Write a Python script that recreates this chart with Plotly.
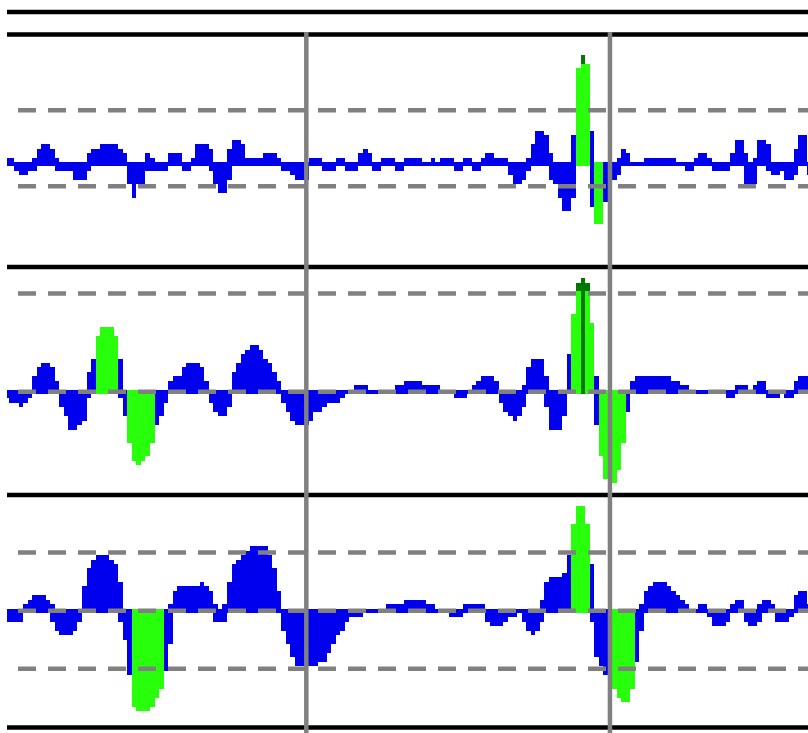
import plotly.graph_objects as go

# ---------------- data (integer counts per bin) ----------------
n_bins = 178
bins = list(range(n_bins))

p1_up = [1,1,0,0,0,0,1,3,4,4, 3,1,0,0,0,0,0,0,2,3, 3,4,4,4,4,3,2,0,0,0,
         0,2,1,0,0,0,2,2,2,0, 0,1,4,4,4,3,0,0,0,3, 5,5,4,1,1,1,1,2,2,2,
         1,0,0,0,0,0,0,1,1,1, 0,0,0,1,1,0,0,0,2,3, 2,0,0,1,1,1,0,0,1,1,
         1,1,0,0,1,0,1,1,1,0, 0,1,1,0,0,1,2,2,1,1, 1,0,0,0,0,1,4,7,7,6,
         2,0,0,0,0,6,0,0,0,7, 0,0,0,0,0,1,3,2,0,0, 0,1,1,1,1,1,1,1,0,0,
         0,0,1,2,2,1,0,0,0,0, 2,5,5,2,0,1,5,5,4,0, 0,0,0,0,3,6,6,0]
p1_dn = [0,0,-1,-2,-2,-1,-1,0,0,0, 0,-1,-1,-1,-1,-3,-3,-3,-1,0, 0,0,0,0,0,0,0,-4,-7,-4,
         -4,-1,-1,-1,-1,-1,0,0,0,-1, -1,0,0,0,0,-1,-4,-6,-6,-3, 0,0,0,0,0,0,0,0,0,0,
         0,-1,-1,-2,-3,-3,-3,0,0,0, -1,-1,-1,0,0,-1,-1,-1,0,0, 0,-1,-1,0,0,0,-1,-1,0,0,
         0,0,0,0,0,0,0,0,0,-1, -1,0,0,-1,-1,0,0,0,0,0, 0,-2,-4,-4,-3,-1,0,0,0,0,
         -3,-4,-7,-10,-10,-7,0,0,0,-9, 0,0,-8,-3,-3,-2,0,0,0,0, 0,0,0,0,0,0,0,0,0,0,
         -1,-1,0,0,0,0,-1,-1,-1,-1, 0,0,0,-4,-4,-4,0,0,-1,-2, -2,-1,-3,-3,-2,0,0,-2]
p1_hi_up = {126: 21, 127: 22, 128: 22}
p1_hi_dn = {130: -13, 131: -13}
p1_peak = {127: 24}

p2_up = [0,0,0,0,0,0,3,5,6,6, 5,2,0,0,0,0,0,0,4,7, 0,0,0,0,0,7,0,0,0,0,
         0,0,0,0,0,0,2,3,3,5, 6,6,6,5,2,0,0,0,0,0, 4,6,8,9,10,10,9,7,6,4,
         2,0,0,0,0,0,0,0,0,0, 0,0,0,0,0,0,0,1,1,1, 0,0,0,0,0,0,1,1,2,2,
         2,2,1,1,1,1,0,0,0,0, 0,0,0,1,2,3,3,3,2,0, 0,0,0,0,1,5,7,7,7,3,
         0,0,0,0,8,0,0,0,0,0, 3,0,0,0,0,0,0,0,2,3, 3,3,3,3,3,3,3,2,2,1,
         1,0,0,0,0,0,0,0,0,0, 0,1,1,1,0,1,2,2,0,0, 0,0,0,0,2,3,3,3]
p2_dn = [-1,-2,-2,-3,-2,-1,0,0,0,0, 0,0,-3,-5,-8,-8,-7,-6,-1,0, 0,0,0,0,0,-1,-5,0,0,0,
         0,0,0,-7,-5,-2,0,0,0,0, 0,0,0,0,0,-2,-4,-5,-5,-3, 0,0,0,0,0,0,0,0,0,0,
         0,-2,-4,-6,-7,-7,-7,-6,-4,-4, -3,-2,-2,-2,-1,0,0,0,0,0, 0,0,0,0,0,0,0,0,0,0,
         0,0,0,0,0,0,0,0,0,-1, -1,-1,0,0,0,0,0,0,0,-2, -4,-5,-6,-5,-3,0,0,0,0,-3,
         -8,-8,-8,-5,0,0,0,0,0,0, -7,0,0,0,0,0,0,-4,0,0, 0,0,0,0,0,0,0,0,0,0,
         0,0,0,0,0,0,0,0,0,-1, -1,0,0,0,0,0,0,0,-1,-1, -1,0,-1,-1,0,0,0,0]
p2_hi_up = {20: 12, 21: 14, 22: 14, 23: 14, 24: 12, 125: 17, 126: 22, 128: 22, 129: 15}
p2_hi_dn = {27: -11, 28: -15, 29: -16, 30: -15, 31: -14, 32: -11,
            131: -14, 132: -19, 133: -20, 134: -20, 135: -17, 136: -11}
p2_peak = {126: 24, 127: 25, 128: 24}

p3_up = [0,0,0,0,1,2,3,3,3,2, 1,0,0,0,0,0,0,5,9,11, 12,12,12,11,10,6,0,0,0,0,
         0,0,0,0,0,0,1,4,5,5, 5,5,5,6,5,4,1,0,1,6, 10,11,12,13,14,14,14,14,12,9,
         4,0,0,0,0,0,0,0,0,0, 0,0,0,0,0,0,0,0,0,0, 0,0,0,0,1,1,1,1,2,2,
         2,2,2,1,1,0,0,0,0,0, 0,1,1,1,1,1,0,0,0,0, 0,0,0,0,0,0,0,0,2,6,
         7,7,7,8,12,0,0,0,0,10, 0,0,0,0,0,0,0,0,0,0, 1,4,5,6,6,6,5,4,3,2,
         1,0,0,1,1,0,0,0,0,0, 1,2,2,0,0,0,1,2,2,1, 0,0,0,0,3,4,4,1]
p3_dn = [-2,-2,-2,-2,0,0,0,0,0,0, -2,-4,-5,-5,-5,-4,-2,0,0,0, 0,0,0,0,0,-2,-6,-14,0,0,
         0,0,0,0,0,-13,-7,0,0,0, 0,0,0,0,0,0,-2,-2,-2,0, 0,0,0,0,0,0,0,0,0,0,
         0,-4,-7,-10,-12,-12,-12,-12,-12,-11, -11,-9,-7,-5,-4,-2,-1,-1,-1,0, 0,0,0,0,0,0,0,0,0,0,
         0,0,0,0,0,0,0,0,-1,-1, -1,0,0,0,0,0,-2,-3,-3,-3, -2,-1,-1,0,-2,-4,-5,-4,-2,0,
         0,0,0,0,0,0,0,0,0,-2, -10,-12,-14,0,0,0,0,0,0,-11, -4,0,0,0,0,0,0,0,0,0,
         0,0,0,0,0,-1,-3,-3,-3,-2, 0,0,0,-2,-3,-3,-2,0,0,0, -2,-2,-2,-1,0,0,0,0]
p3_hi_up = {125: 19, 126: 23, 127: 23, 128: 19}
p3_hi_dn = {28: -21, 29: -22, 30: -22, 31: -22, 32: -21, 33: -19, 34: -17,
            133: -17, 134: -17, 135: -19, 136: -20, 137: -20, 138: -17}
p3_peak = {}

thresholds = [[12, -5], [22, 0], [13, 0, -13]]
events = [66, 133]

# ---------------- layout constants (pixels) ----------------
W, H = 808, 733
LEFT = 7
X0_PX, X_STEP = 4.94, 4.532          # px of bin edge 0, px per bin
Y_STEP = 4.47                        # px per count
PAD = 0.45                           # half thickness of the zero band (counts)
centers_px = [163.8, 391.8, 610.7]
bounds_px = [(34.5, 267.0), (267.0, 495.0), (495.0, 727.5)]
rules_px = [12.0, 34.5, 267.0, 495.0, 727.5]

BLUE, GREEN, DARK, GRAY = "#0000ee", "#28ff0a", "#007800", "#808080"

panels = [
    (p1_up, p1_dn, p1_hi_up, p1_hi_dn, p1_peak),
    (p2_up, p2_dn, p2_hi_up, p2_hi_dn, p2_peak),
    (p3_up, p3_dn, p3_hi_up, p3_hi_dn, p3_peak),
]

fig = go.Figure()
x_rng = [(LEFT - X0_PX) / X_STEP, (W - X0_PX) / X_STEP]

def bar(xs, lo, hi, color, yax):
    return go.Bar(x=[v + 0.5 for v in xs], base=[l - PAD for l in lo],
                  y=[h - l + 2 * PAD for h, l in zip(hi, lo)], width=1,
                  marker=dict(color=color, line=dict(width=0)),
                  yaxis=yax, xaxis="x", showlegend=False, hoverinfo="skip")

for k, (up, dn, hu, hd, pk) in enumerate(panels):
    yax = "y" if k == 0 else f"y{k+1}"
    fig.add_trace(bar(bins, dn, up, BLUE, yax))
    if pk:
        ks = sorted(pk)
        fig.add_trace(bar(ks, [0] * len(ks), [pk[i] for i in ks], DARK, yax))
    if hu:
        ks = sorted(hu)
        fig.add_trace(bar(ks, [0] * len(ks), [hu[i] for i in ks], GREEN, yax))
    if hd:
        ks = sorted(hd)
        fig.add_trace(bar(ks, [hd[i] for i in ks], [0] * len(ks), GREEN, yax))

layout = dict(width=W, height=H, margin=dict(l=LEFT, r=0, t=0, b=0, pad=0),
              paper_bgcolor="white", plot_bgcolor="white", barmode="overlay",
              bargap=0, showlegend=False,
              xaxis=dict(range=x_rng, visible=False, fixedrange=True))
for k in range(3):
    top, bot = bounds_px[k]
    c = centers_px[k]
    key = "yaxis" if k == 0 else f"yaxis{k+1}"
    layout[key] = dict(domain=[1 - bot / H, 1 - top / H],
                       range=[(c - bot) / Y_STEP, (c - top) / Y_STEP],
                       visible=False, fixedrange=True, anchor="x")
fig.update_layout(**layout)

shapes = []
for r in rules_px:
    shapes.append(dict(type="line", xref="paper", yref="paper", x0=0, x1=1,
                       y0=1 - r / H, y1=1 - r / H, layer="above",
                       line=dict(color="black", width=4.5)))
dash_x0 = (-12 - X0_PX) / X_STEP
for k, levels in enumerate(thresholds):
    yref = "y" if k == 0 else f"y{k+1}"
    for lv in levels:
        shapes.append(dict(type="line", xref="x", yref=yref, x0=dash_x0, x1=x_rng[1] + 2,
                           y0=lv, y1=lv, layer="above",
                           line=dict(color=GRAY, width=4.5, dash="18px,12px")))
for e in events:
    shapes.append(dict(type="line", xref="x", yref="paper", x0=e + 0.5, x1=e + 0.5,
                       y0=0, y1=1 - 32 / H, layer="above",
                       line=dict(color=GRAY, width=4.5)))
fig.update_layout(shapes=shapes)

fig.write_html("out.html", config={"displayModeBar": False},
               post_script="document.body.style.margin='0';document.body.style.overflow='hidden';")
